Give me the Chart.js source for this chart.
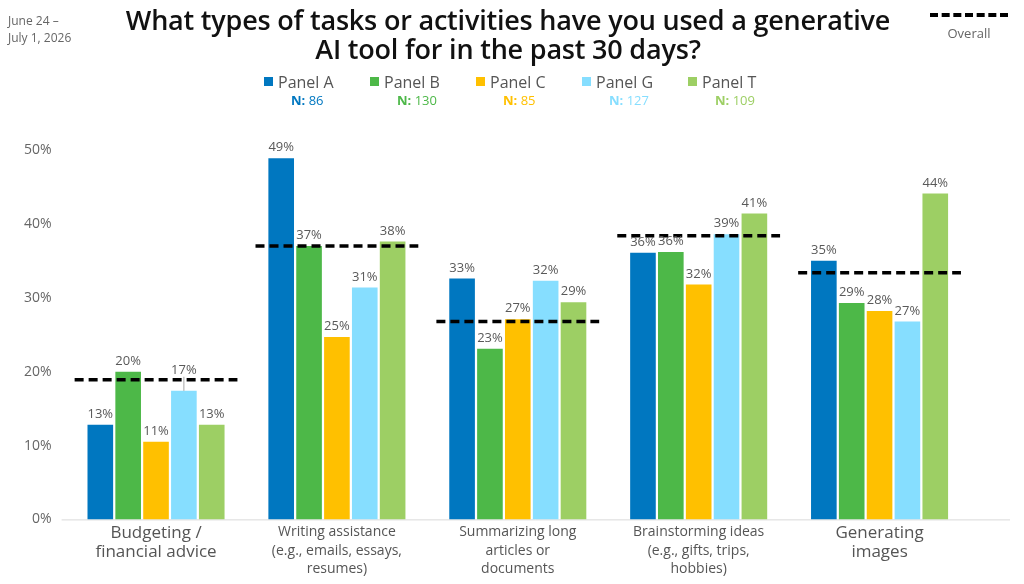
<!DOCTYPE html>
<html>
<head>
<meta charset="utf-8">
<script src="https://cdn.jsdelivr.net/npm/chart.js@4"></script>
<style>
  body { margin: 0; background: #fff; font-family: "Open Sans", sans-serif; }
  #wrap { position: relative; width: 1024px; height: 584px; overflow: hidden; }
  #chart { position: absolute; left: 0; top: 0; }
  #date { position: absolute; left: 8px; top: 12px; font-size: 12px; line-height: 17px; color: #666; }
  #title { position: absolute; left: 0; width: 1024px; top: 5px; text-align: center; margin-left: -4px;
           font-size: 27px; line-height: 29px; font-weight: 600; color: #111; letter-spacing: -0.2px; }
  #overall { position: absolute; left: 928px; top: 13px; width: 82px; text-align: center; font-size: 13px; color: #666; }
  #overall .dash { display: block; height: 0; border-top: 4px dashed #000; margin: 0 0 7px 2px; width: 78px; }
  #legend { position: absolute; left: 264px; top: 72px; display: flex; }
  .item { width: 106px; font-size: 16px; color: #555; line-height: 20px; }
  .item .sw { display: inline-block; width: 9px; height: 9px; margin-right: 5px; vertical-align: 2px; }
  .item .n { font-size: 13px; margin-left: 27px; line-height: 16px; }
  .item .n b { font-weight: 700; }
</style>
</head>
<body>
<div id="wrap">
  <canvas id="chart" width="1024" height="584"></canvas>
  <div id="date">June 24 –<br>July 1, 2026</div>
  <div id="title">What types of tasks or activities have you used a generative<br>AI tool for in the past 30 days?</div>
  <div id="overall"><span class="dash"></span>Overall</div>
  <div id="legend"></div>
</div>
<script>
const categories = [
  ["Budgeting /", "financial advice"],
  ["Writing assistance", "(e.g., emails, essays,", "resumes)"],
  ["Summarizing long", "articles or", "documents"],
  ["Brainstorming ideas", "(e.g., gifts, trips,", "hobbies)"],
  ["Generating", "images"]
];
const panels = ["Panel A", "Panel B", "Panel C", "Panel G", "Panel T"];
const panelN = [86, 130, 85, 127, 109];
const colors = ["#0077c0", "#4db848", "#ffc000", "#86deff", "#9dcf64"];

const panelA = [12.8, 48.9, 32.6, 36.1, 35.0];
const panelB = [20.0, 37.0, 23.1, 36.2, 29.3];
const panelC = [10.5, 24.7, 27.1, 31.8, 28.2];
const panelG = [17.4, 31.4, 32.3, 38.6, 26.8];
const panelT = [12.8, 37.6, 29.4, 41.4, 44.1];
const overall = [18.9, 37.0, 26.8, 38.4, 33.4];

const yTicks = [0, 10, 20, 30, 40, 50];

// legend built from the arrays
const legend = document.getElementById("legend");
panels.forEach((p, i) => {
  const d = document.createElement("div");
  d.className = "item";
  d.innerHTML = '<span class="sw" style="background:' + colors[i] + '"></span>' + p +
    '<div class="n" style="color:' + colors[i] + '"><b>N:</b> ' + panelN[i] + '</div>';
  legend.appendChild(d);
});

const series = [panelA, panelB, panelC, panelG, panelT];

// value labels above bars, lifted over the overall line when the text would sit on it
const valueLabels = {
  id: "valueLabels",
  afterDatasetsDraw(chart) {
    const ctx = chart.ctx;
    const y = chart.scales.y;
    ctx.save();
    ctx.font = "13px 'Open Sans'";
    ctx.textAlign = "center";
    ctx.textBaseline = "bottom";
    chart.data.datasets.forEach((ds, di) => {
      chart.getDatasetMeta(di).data.forEach((bar, i) => {
        let ly = bar.y - 4;
        const lineY = y.getPixelForValue(overall[i]);
        if (lineY > ly - 10 && lineY < bar.y - 2) {
          ly = lineY - 3;
          ctx.strokeStyle = "#a6a6a6";
          ctx.lineWidth = 1;
          ctx.beginPath();
          ctx.moveTo(bar.x, lineY - 3);
          ctx.lineTo(bar.x, bar.y);
          ctx.stroke();
        }
        ctx.fillStyle = "#595959";
        ctx.fillText(Math.round(ds.data[i]) + "%", bar.x, ly);
      });
    });
    ctx.restore();
  }
};

// overall dashed marker per category
const overallLines = {
  id: "overallLines",
  afterDatasetsDraw(chart) {
    const ctx = chart.ctx;
    const x = chart.scales.x, y = chart.scales.y;
    const half = (x.width / categories.length) * 0.45;
    ctx.save();
    ctx.strokeStyle = "#000";
    ctx.lineWidth = 3.5;
    ctx.setLineDash([9, 5]);
    overall.forEach((v, i) => {
      const cx = x.getPixelForValue(i), py = y.getPixelForValue(v);
      ctx.beginPath();
      ctx.moveTo(cx - half, py);
      ctx.lineTo(cx + half, py);
      ctx.stroke();
    });
    ctx.restore();
  }
};

// baseline running to right edge
const baseline = {
  id: "baseline",
  beforeDatasetsDraw(chart) {
    const ctx = chart.ctx;
    const py = chart.scales.y.getPixelForValue(0);
    ctx.save();
    ctx.strokeStyle = "#d9d9d9";
    ctx.lineWidth = 1;
    ctx.beginPath();
    ctx.moveTo(chart.chartArea.left - 4, py + 0.5);
    ctx.lineTo(1010, py + 0.5);
    ctx.stroke();
    ctx.restore();
  }
};

new Chart(document.getElementById("chart"), {
  type: "bar",
  data: {
    labels: categories,
    datasets: series.map((d, i) => ({
      label: panels[i],
      data: d,
      backgroundColor: colors[i],
      categoryPercentage: 0.77,
      barPercentage: 0.92
    }))
  },
  options: {
    responsive: false,
    animation: false,
    layout: { padding: { top: 150, right: 54, bottom: 2, left: 10 } },
    plugins: { legend: { display: false }, tooltip: { enabled: false } },
    scales: {
      y: {
        min: 0, max: 50,
        afterBuildTicks: (axis) => { axis.ticks = yTicks.map(v => ({ value: v })); },
        ticks: {
          callback: v => v + "%",
          color: "#666",
          font: { family: "Open Sans", size: 14 },
          padding: 14
        },
        grid: { display: false, drawTicks: false },
        border: { display: false }
      },
      x: {
        ticks: {
          color: "#555",
          font: (c) => (c.index === 0 || c.index === 4)
            ? { family: "Open Sans", size: 17, lineHeight: 1.12 }
            : { family: "Open Sans", size: 14, lineHeight: 1.3 },
          maxRotation: 0,
          autoSkip: false,
          padding: 4
        },
        grid: { display: false, drawTicks: false },
        border: { display: false }
      }
    }
  },
  plugins: [baseline, overallLines, valueLabels]
});
</script>
</body>
</html>
